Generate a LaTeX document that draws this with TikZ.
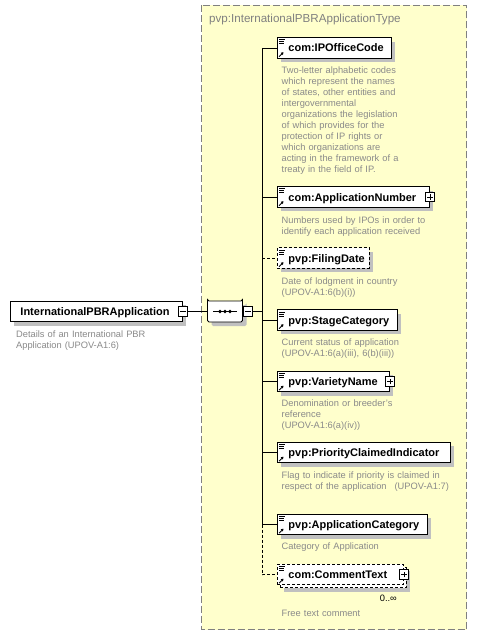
\documentclass[tikz,border=0pt]{standalone}
\usepackage{fontspec}
\setmainfont{Liberation Sans}
\usetikzlibrary{arrows.meta, positioning, calc, shapes.misc, shadows}

\definecolor{panelfill}{HTML}{FFFFCC}
\definecolor{panelline}{HTML}{808080}
\definecolor{desctext}{HTML}{8A8A8A}
\definecolor{shadowgray}{HTML}{C0C0C0}

\newcommand{\namefont}{\fontsize{11}{13}\selectfont\bfseries}
\newcommand{\descfont}{\fontsize{9.3}{11}\selectfont}
\newcommand{\titlefont}{\fontsize{11.6}{13}\selectfont}

% small marks in the top and bottom left corner of an element
\newcommand{\elemicons}[1]{%
    \draw[line width=0.6pt] ($(#1.north west)+(2,2.5)$) -- ++(6,0)
        ($(#1.north west)+(2,4.5)$) -- ++(5,0)
        ($(#1.north west)+(2,6.5)$) -- ++(5,0);
    \draw[line width=0.8pt, -{Triangle[length=2.5pt, width=3pt]}] ($(#1.south west)+(2,-2)$) -- ++(4.5,-4.5);
}

\tikzset{
    wire/.style={line width=0.9pt},
    optional/.style={dash pattern=on 3pt off 2pt},
    elemshadow/.style={drop shadow={shadow xshift=#1, shadow yshift=-#1, fill=shadowgray, opacity=1}},
    elemshadow/.default=4pt,
    elembox/.style={draw, fill=white, line width=0.9pt, anchor=west, minimum height=20.5,
        inner xsep=0, inner ysep=0, text width=#1, align=left,
        text height=9.5, text depth=1.5, font=\namefont},
    desc/.style={anchor=base west, inner sep=0, text width=220, align=left, font=\descfont, text=desctext},
    expand/.style={draw, fill=white, line width=0.8pt, minimum size=9.5, inner sep=0,
        path picture={\draw[line width=0.8pt]
            ([xshift=2pt]path picture bounding box.west) -- ([xshift=-2pt]path picture bounding box.east)
            ([yshift=2pt]path picture bounding box.south) -- ([yshift=-2pt]path picture bounding box.north);}},
    collapse/.style={draw, fill=white, line width=0.8pt, minimum size=9.5, inner sep=0,
        path picture={\draw[line width=0.8pt]
            ([xshift=2pt]path picture bounding box.west) -- ([xshift=-2pt]path picture bounding box.east);}},
    seqbox/.style={chamfered rectangle, chamfered rectangle sep=5pt, draw, fill=white,
        line width=0.9pt, minimum width=35, minimum height=21, inner sep=0, rounded corners=1.5pt}
}

\begin{document}
\begin{tikzpicture}[x=1pt, y=-1pt]
    \useasboundingbox[fill=white] (0,0) rectangle (478,636);

    % complex type panel
    \draw[fill=panelfill, draw=panelline, line width=0.9pt, dash pattern=on 7pt off 3pt] (201.5,5.5) rectangle (466.5,629.5);
    \node[anchor=base west, inner sep=0, font=\titlefont, text=panelline] (paneltitle) at (209,23) {pvp:InternationalPBRApplicationType};

    % root element
    \node[elembox=172, elemshadow] (root) at (10,311.5) {\hspace*{10pt}InternationalPBRApplication};
    \node[collapse] (roottog) at (root.east) {};
    \node[desc] (rootdesc) at (16,337) {Details of an International PBR\\Application (UPOV-A1:6)};

    % sequence
    \node[seqbox, elemshadow] (seq) at (225,311.5) {};
    \draw[line width=0.9pt] ($(seq.west)+(6,0)$) -- ($(seq.east)+(-6,0)$);
    \foreach \dx in {-5, 0, 5}
        \fill ($(seq.center)+(\dx,0)$) circle (1.9);
    \node[collapse, right=0pt of seq] (seqtog) {};
    \coordinate (bus) at (262,311.5);

    % children
    \node[elembox=114, elemshadow] (ipo) at (277,48) {\hspace*{11pt}com:IPOfficeCode};
    \node[desc] (ipodesc) at (281.5,74) {Two-letter alphabetic codes\\which represent the names\\of states, other entities and\\intergovernmental\\organizations the legislation\\of which provides for the\\protection of IP rights or\\which organizations are\\acting in the framework of a\\treaty in the field of IP.};

    \node[elembox=152, elemshadow] (appnum) at (277,197) {\hspace*{11pt}com:ApplicationNumber};
    \node[expand] (appnumtog) at (appnum.east) {};
    \node[desc] (appnumdesc) at (281.5,223.3) {Numbers used by IPOs in order to\\identify each application received};

    \node[elembox=92, elemshadow, optional] (filing) at (277,258) {\hspace*{11pt}pvp:FilingDate};
    \node[desc] (filingdesc) at (281.5,284) {Date of lodgment in country\\(UPOV-A1:6(b)(i))};

    \node[elembox=120, elemshadow] (stage) at (277,320) {\hspace*{11pt}pvp:StageCategory};
    \node[desc] (stagedesc) at (281.5,345) {Current status of application\\(UPOV-A1:6(a)(iii), 6(b)(iii))};

    \node[elembox=112, elemshadow] (variety) at (277,381.5) {\hspace*{11pt}pvp:VarietyName};
    \node[expand] (varietytog) at (variety.east) {};
    \node[desc] (varietydesc) at (281.5,406) {Denomination or breeder's\\reference\\(UPOV-A1:6(a)(iv))};

    \node[elembox=173, elemshadow] (priority) at (277,452.5) {\hspace*{11pt}pvp:PriorityClaimedIndicator};
    \node[desc] (prioritydesc) at (281.5,478.3) {Flag to indicate if priority is claimed in\\respect of the application\hspace{8pt}(UPOV-A1:7)};

    \node[elembox=150, elemshadow] (appcat) at (277,524.5) {\hspace*{11pt}pvp:ApplicationCategory};
    \node[desc] (appcatdesc) at (281.5,549.3) {Category of Application};

    \node[elembox=126, optional, elemshadow=7pt,
        general shadow={shadow xshift=3pt, shadow yshift=-3pt, draw=black, fill=white, line width=0.9pt, dash pattern=on 3pt off 2pt}]
        (comment) at (277,574.5) {\hspace*{11pt}com:CommentText};
    \node[expand] (commenttog) at (comment.east) {};
    \node[anchor=base east, inner sep=0, font=\descfont] (commentocc) at (397,601.7) {0..∞};
    \node[desc] (commentdesc) at (281.5,616.7) {Free text comment};

    % connectors
    \draw[wire] (roottog.east) -- (seq.west);
    \draw[wire] (seqtog.east) -- (bus);
    \draw[wire] (ipo.west -| bus) -- (appcat.west -| bus);
    \draw[wire, optional] (appcat.west -| bus) -- (comment.west -| bus) -- (comment.west);
    \foreach \child in {ipo, appnum, stage, variety, priority, appcat}
        \draw[wire] (\child.west -| bus) -- (\child.west);
    \draw[wire, optional] (filing.west -| bus) -- (filing.west);
    \foreach \child in {ipo, appnum, filing, stage, variety, priority, appcat, comment}
        {\elemicons{\child}}
\end{tikzpicture}
\end{document}
